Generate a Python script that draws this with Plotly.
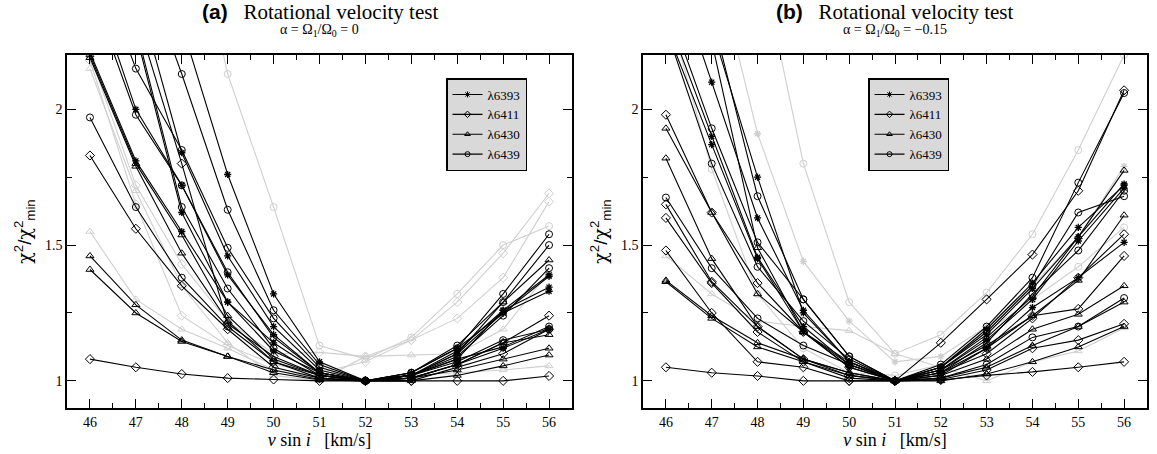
import plotly.graph_objects as go

X = [46, 47, 48, 49, 50, 51, 52, 53, 54, 55, 56]
X_TICKS = [46, 47, 48, 49, 50, 51, 52, 53, 54, 55, 56]
LEGEND_NAMES = ["λ6393", "λ6411", "λ6430", "λ6439"]

# ---------------- panel (a): alpha = 0 ----------------
a_6393 = [
    [2.21, 1.81, 1.55, 1.29, 1.11, 1.03, 1.00, 1.02, 1.08, 1.26, 1.39],
    [2.50, 2.00, 1.72, 1.39, 1.17, 1.03, 1.00, 1.02, 1.10, 1.25, 1.385],
    [3.60, 2.95, 2.31, 1.76, 1.32, 1.07, 1.00, 1.02, 1.11, 1.26, 1.345],
    [3.00, 2.45, 1.84, 1.46, 1.20, 1.04, 1.00, 1.03, 1.12, 1.25, 1.33],
    [2.75, 2.28, 1.62, 1.29, 1.14, 1.03, 1.00, 1.01, 1.06, 1.12, 1.19],
]
a_6411 = [
    [1.08, 1.05, 1.025, 1.01, 1.005, 1.00, 1.00, 1.00, 1.00, 1.00, 1.018],
    [1.83, 1.56, 1.35, 1.19, 1.05, 1.01, 1.00, 1.01, 1.06, 1.14, 1.24],
    [2.90, 2.35, 1.80, 1.21, 1.09, 1.02, 1.00, 1.00, 1.05, 1.10, 1.19],
]
a_6430 = [
    [1.46, 1.28, 1.15, 1.09, 1.04, 1.005, 1.00, 1.00, 1.02, 1.055, 1.095],
    [1.41, 1.25, 1.145, 1.09, 1.03, 1.003, 1.00, 1.01, 1.04, 1.08, 1.12],
    [2.20, 1.80, 1.537, 1.24, 1.08, 1.02, 1.00, 1.02, 1.10, 1.29, 1.445],
    [2.19, 1.79, 1.47, 1.22, 1.07, 1.02, 1.00, 1.01, 1.06, 1.14, 1.17],
]
a_6439 = [
    [1.97, 1.64, 1.38, 1.20, 1.07, 1.01, 1.00, 1.02, 1.08, 1.125, 1.20],
    [2.60, 2.15, 1.85, 1.49, 1.23, 1.05, 1.00, 1.03, 1.12, 1.32, 1.54],
    [2.45, 1.98, 1.72, 1.40, 1.16, 1.03, 1.00, 1.02, 1.09, 1.24, 1.415],
    [3.20, 2.60, 2.13, 1.63, 1.26, 1.06, 1.00, 1.03, 1.13, 1.29, 1.50],
    [2.90, 2.30, 1.64, 1.34, 1.12, 1.02, 1.00, 1.02, 1.07, 1.15, 1.19],
]
# light grey curves in panel (a)
ga_6411 = [
    [2.20, 1.72, 1.43, 1.22, 1.10, 1.105, 1.09, 1.15, 1.29, 1.47, 1.69],
    [2.18, 1.65, 1.24, 1.13, 1.06, 1.03, 1.07, 1.15, 1.23, 1.38, 1.66],
]
ga_6430 = [
    [1.55, 1.30, 1.19, 1.12, 1.04, 1.01, 1.00, 1.02, 1.03, 1.04, 1.055],
    [2.15, 1.70, 1.35, 1.14, 1.02, 1.00, 1.09, 1.095, 1.10, 1.19, 1.40],
]
ga_6439 = [
    [4.50, 3.70, 2.90, 2.13, 1.64, 1.13, 1.08, 1.16, 1.32, 1.50, 1.57],
]

# ---------------- panel (b): alpha = -0.15 ----------------
b_6393 = [
    [2.60, 2.10, 1.60, 1.26, 1.07, 1.00, 1.05, 1.19, 1.36, 1.565, 1.72],
    [2.35, 1.90, 1.455, 1.20, 1.06, 1.00, 1.05, 1.17, 1.34, 1.53, 1.725],
    [2.30, 1.87, 1.45, 1.18, 1.05, 1.00, 1.04, 1.15, 1.30, 1.515, 1.71],
    [2.90, 2.30, 1.75, 1.25, 1.07, 1.00, 1.03, 1.12, 1.27, 1.38, 1.51],
]
b_6411 = [
    [1.05, 1.03, 1.018, 1.00, 1.00, 1.00, 1.003, 1.02, 1.033, 1.05, 1.07],
    [1.98, 1.62, 1.36, 1.18, 1.05, 1.00, 1.14, 1.30, 1.465, 1.70, 2.07],
    [1.65, 1.365, 1.20, 1.08, 1.02, 1.00, 1.03, 1.10, 1.23, 1.38, 1.54],
    [1.60, 1.36, 1.18, 1.07, 1.01, 1.00, 1.02, 1.12, 1.24, 1.265, 1.46],
    [1.48, 1.25, 1.07, 1.05, 1.00, 1.00, 1.005, 1.04, 1.12, 1.15, 1.21],
]
b_6430 = [
    [1.93, 1.62, 1.32, 1.18, 1.07, 1.00, 1.04, 1.13, 1.24, 1.37, 1.61],
    [1.82, 1.45, 1.20, 1.08, 1.03, 1.00, 1.02, 1.08, 1.19, 1.245, 1.35],
    [1.37, 1.24, 1.14, 1.08, 1.03, 1.00, 1.01, 1.05, 1.13, 1.20, 1.29],
    [1.365, 1.23, 1.125, 1.07, 1.02, 1.00, 1.00, 1.025, 1.07, 1.125, 1.20],
    [2.90, 2.25, 1.49, 1.18, 1.06, 1.00, 1.04, 1.16, 1.31, 1.53, 1.775],
]
b_6439 = [
    [1.675, 1.415, 1.23, 1.13, 1.06, 1.00, 1.01, 1.06, 1.16, 1.20, 1.305],
    [2.40, 1.93, 1.51, 1.30, 1.09, 1.00, 1.06, 1.20, 1.38, 1.73, 2.06],
    [2.30, 1.80, 1.42, 1.22, 1.08, 1.00, 1.05, 1.18, 1.35, 1.62, 1.68],
    [3.00, 2.35, 1.68, 1.30, 1.09, 1.00, 1.03, 1.14, 1.32, 1.48, 1.70],
]
gb_6393 = [
    [3.20, 2.60, 1.91, 1.44, 1.22, 1.07, 1.09, 1.20, 1.35, 1.53, 1.79],
]
gb_6430 = [
    [1.46, 1.32, 1.22, 1.20, 1.185, 1.10, 1.05, 1.00, 1.07, 1.11, 1.195],
]
gb_6439 = [
    [4.20, 3.40, 2.60, 1.80, 1.29, 1.10, 1.17, 1.325, 1.54, 1.85, 2.20],
    [2.40, 1.78, 1.32, 1.12, 1.03, 1.02, 1.06, 1.18, 1.30, 1.42, 1.565],
]

SYMBOLS = ["asterisk-open", "diamond-open", "triangle-up-open", "circle-open"]
BLACK = "black"
GREY = "#cfcfcf"

fig = go.Figure()


def add_group(series, sym, color, xa, ya):
    for s in series:
        star = sym == "asterisk-open"
        fig.add_trace(go.Scatter(
            x=X, y=s, mode="lines+markers", xaxis=xa, yaxis=ya,
            line=dict(color=color, width=1.1),
            marker=dict(symbol=sym, size=6 if star else 7,
                        color=color, line=dict(color=color, width=1.3 if star else 1)),
            showlegend=False, hoverinfo="skip"))


# grey curves first (behind)
add_group(ga_6411, SYMBOLS[1], GREY, "x", "y")
add_group(ga_6430, SYMBOLS[2], GREY, "x", "y")
add_group(ga_6439, SYMBOLS[3], GREY, "x", "y")
add_group(gb_6393, SYMBOLS[0], GREY, "x2", "y2")
add_group(gb_6430, SYMBOLS[2], GREY, "x2", "y2")
add_group(gb_6439, SYMBOLS[3], GREY, "x2", "y2")

for grp, sym in zip([a_6393, a_6411, a_6430, a_6439], SYMBOLS):
    add_group(grp, sym, BLACK, "x", "y")
for grp, sym in zip([b_6393, b_6411, b_6430, b_6439], SYMBOLS):
    add_group(grp, sym, BLACK, "x2", "y2")

# legend entries
for lg, xa, ya in [("legend", "x", "y"), ("legend2", "x2", "y2")]:
    for name, sym in zip(LEGEND_NAMES, SYMBOLS):
        fig.add_trace(go.Scatter(
            x=[None], y=[None], mode="lines+markers", name=name, legend=lg,
            xaxis=xa, yaxis=ya,
            line=dict(color=BLACK, width=1.1),
            marker=dict(symbol=sym, size=5, color=BLACK, line=dict(color=BLACK, width=1)),
        ))

W, H = 1157, 454
xa_dom = [67 / W, 572 / W]
xb_dom = [643 / W, 1147 / W]
y_dom = [1 - 408 / H, 1 - 55 / H]

tickfont = dict(family="Liberation Serif", size=14, color="black")
common_x = dict(range=[45.5, 56.5], tickvals=X_TICKS, showline=True, linecolor="black", linewidth=1.6,
                mirror="ticks", ticks="inside", ticklen=9, tickwidth=1, tickcolor="black",
                showgrid=False, zeroline=False, tickfont=tickfont,
                minor=dict(ticks="inside", ticklen=5, tickwidth=1, tickcolor="black", dtick=0.5),
                title=dict(text="<i>v</i> sin <i>i</i>   [km/s]",
                           font=dict(family="Liberation Serif", size=18, color="black"), standoff=5))
common_y = dict(range=[0.9, 2.2], dtick=0.5, tick0=0, showline=True, linecolor="black", linewidth=1.6,
                mirror="ticks", ticks="inside", ticklen=9, tickwidth=1, tickcolor="black",
                showgrid=False, zeroline=False, tickfont=tickfont,
                minor=dict(ticks="inside", ticklen=5, tickwidth=1, tickcolor="black", dtick=0.25),
                title=dict(text="<span style=\"font-family:DejaVu Serif\">χ</span><sup>2</sup>"
                                "/<span style=\"font-family:DejaVu Serif\">χ</span><sup>2</sup><sub>min</sub>",
                           font=dict(family="Liberation Sans", size=19, color="black"), standoff=8))

legend_style = dict(bgcolor="#d9d9d9", bordercolor="black", borderwidth=1.5,
                    font=dict(family="Liberation Serif", size=13, color="black"),
                    xanchor="left", yanchor="top", tracegroupgap=0, itemwidth=30)

fig.update_layout(
    width=W, height=H, margin=dict(l=0, r=0, t=0, b=0),
    paper_bgcolor="white", plot_bgcolor="white",
    xaxis=dict(domain=xa_dom, anchor="y", **common_x),
    yaxis=dict(domain=y_dom, anchor="x", **common_y),
    xaxis2=dict(domain=xb_dom, anchor="y2", **common_x),
    yaxis2=dict(domain=y_dom, anchor="x2", **common_y),
    legend=dict(x=446 / W, y=1 - 78 / H, **legend_style),
    legend2=dict(x=868 / W, y=1 - 78 / H, **legend_style),
)

for label, sub, dom in [("(a)", "0", xa_dom), ("(b)", "−0.15", xb_dom)]:
    cx = (dom[0] + dom[1]) / 2
    fig.add_annotation(
        x=cx, y=1 - 12 / H, xref="paper", yref="paper", showarrow=False,
        xanchor="center", yanchor="middle",
        text="<span style=\"font-family:Liberation Sans\"><b>" + label + "</b></span>   Rotational velocity test",
        font=dict(family="Liberation Serif", size=21, color="black"))
    fig.add_annotation(
        x=cx, y=1 - 31 / H, xref="paper", yref="paper", showarrow=False,
        xanchor="center", yanchor="middle",
        text="α = Ω<sub>1</sub>/Ω<sub>0</sub> = " + sub,
        font=dict(family="Liberation Serif", size=14, color="black"))

fig.write_html("out.html")
